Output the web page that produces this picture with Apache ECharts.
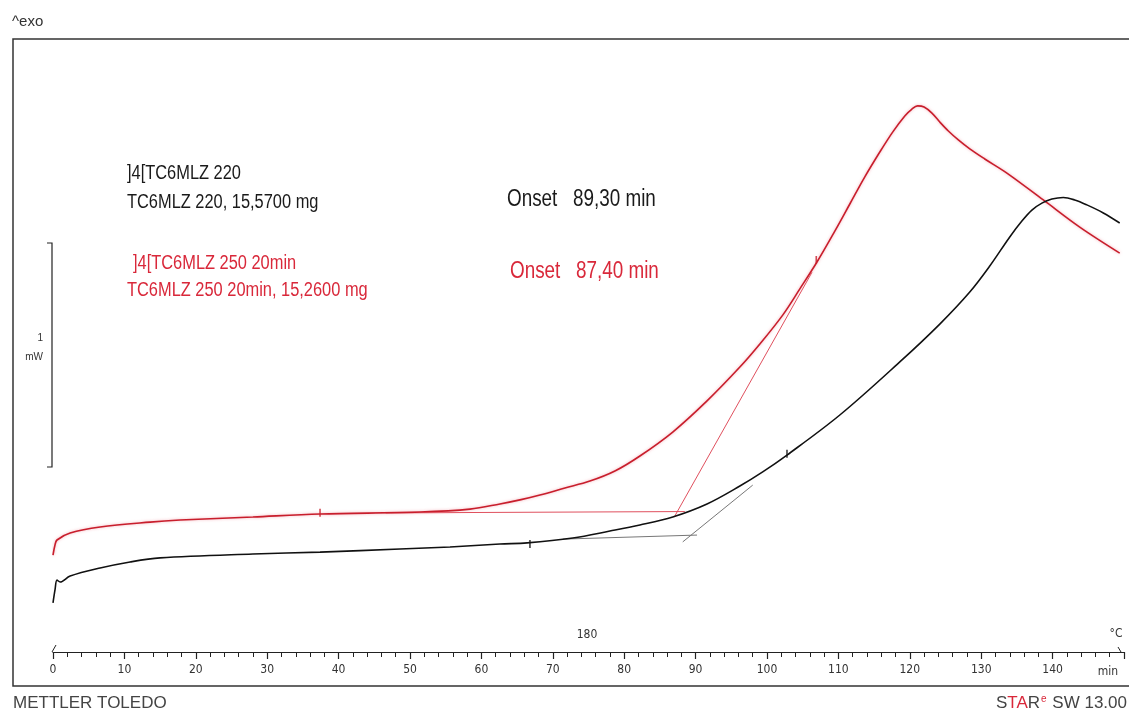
<!DOCTYPE html>
<html>
<head>
<meta charset="utf-8">
<title>DSC – TC6MLZ</title>
<script src="https://cdn.jsdelivr.net/npm/echarts@6/dist/echarts.min.js"></script>
<style>
  html, body { margin: 0; padding: 0; background: #ffffff; }
  #c { width: 1129px; height: 712px; }
</style>
</head>
<body>
<div id="c"></div>
<script>
// ---- data: time in min, heat flow in mW (arbitrary offset, exo up) ----
const blackTime = [0, 0.28, 0.56, 1.0, 2.4, 6.6, 10.8, 15.0, 28.0, 37.4, 48.6, 55.6, 62.6, 66.4, 72.8, 78.0, 82.2, 86.8, 91.6, 96.2, 99.4, 102.8, 110.2, 118.6, 124.2, 128.4, 131.2, 134.0, 135.7, 137.1, 138.5, 139.9, 141.5, 143.1, 144.8, 147.1, 149.4];
const blackHeat = [0.219, 0.277, 0.321, 0.3125, 0.339, 0.375, 0.402, 0.420, 0.4375, 0.446, 0.460, 0.469, 0.482, 0.487, 0.509, 0.540, 0.567, 0.603, 0.661, 0.741, 0.804, 0.879, 1.058, 1.295, 1.464, 1.607, 1.723, 1.853, 1.924, 1.973, 2.004, 2.022, 2.029, 2.018, 1.996, 1.960, 1.915];

const redTime = [0, 0.28, 0.56, 2.4, 6.6, 13.6, 17.8, 28.0, 37.4, 51.4, 58.4, 62.6, 65.4, 68.2, 71.7, 75.2, 78.7, 82.2, 86.8, 91.6, 96.2, 99.0, 102.2, 104.6, 107.0, 109.5, 111.6, 113.7, 115.8, 117.6, 119.3, 120.3, 121.1, 122.0, 123.1, 124.2, 125.4, 126.8, 128.4, 130.5, 133.6, 138.7, 143.8, 149.4];
const redHeat = [0.433, 0.478, 0.500, 0.531, 0.558, 0.580, 0.589, 0.603, 0.616, 0.625, 0.638, 0.661, 0.679, 0.701, 0.732, 0.763, 0.808, 0.875, 0.982, 1.121, 1.272, 1.375, 1.504, 1.621, 1.741, 1.879, 2.000, 2.121, 2.232, 2.321, 2.393, 2.424, 2.438, 2.433, 2.406, 2.366, 2.326, 2.286, 2.246, 2.201, 2.138, 2.018, 1.897, 1.781];

// onset evaluation: baseline and inflection tangents [time, mW]
const redBaseline = [[46.6, 0.621], [88.5, 0.627]];
const redTangent = [[87.0, 0.602], [106.3, 1.695]];
const blackBaseline = [[71.4, 0.504], [90.2, 0.522]];
const blackTangent = [[88.2, 0.4915], [98.0, 0.745]];

// integration limit marks
const redLimits = [[37.4, 0.622], [106.9, 1.750]];
const blackLimits = [[66.8, 0.482], [102.8, 0.885]];

// 1 mW scale bar (mW)
const scaleBar = [0.826, 1.826];

const legendBlack = [']4[TC6MLZ 220', 'TC6MLZ 220, 15,5700 mg'];
const legendRed = [']4[TC6MLZ 250 20min', 'TC6MLZ 250 20min, 15,2600 mg'];
const onsetBlack = 'Onset   89,30 min';
const onsetRed = 'Onset   87,40 min';

const NARROW = "'DejaVu Sans Condensed','Liberation Sans Narrow',sans-serif";
const SANS = "'Liberation Sans',Arial,sans-serif";
const RED = '#c81e2c';
const RED_TEXT = '#d9283a';
const SQUEEZE = 0.82;   // horizontal compression for the narrow annotation face

const zip = (a, b) => a.map((v, i) => [v, b[i]]);

const chart = echarts.init(document.getElementById('c'), null, { renderer: 'canvas' });

function lineSeries(data, color, width, z, extra) {
  return Object.assign({
    type: 'line', data, symbol: 'none', z, silent: true, animation: false,
    lineStyle: { color, width }
  }, extra || {});
}

function txt(text, x, y, size, fill, family, align) {
  return {
    type: 'text', x, y, silent: true,
    style: { text, font: size + 'px ' + family, fill, align: align || 'left', verticalAlign: 'middle' }
  };
}

// narrow annotation text: regular sans squeezed horizontally from its left edge
function ntxt(text, x, y, size, fill) {
  const t = txt(text, x, y, size, fill, SANS);
  t.scaleX = SQUEEZE;
  return t;
}

chart.setOption({
  animation: false,
  backgroundColor: '#ffffff',
  grid: { left: 53, right: 5, top: 36, bottom: 60 },
  xAxis: {
    type: 'value', min: 0, max: 150, interval: 10,
    axisLine: { show: true, lineStyle: { color: '#222', width: 1.2 } },
    axisTick: { show: true, length: 7, lineStyle: { color: '#222', width: 1.2 } },
    minorTick: { show: true, splitNumber: 5, length: 5, lineStyle: { color: '#222', width: 1 } },
    axisLabel: {
      margin: 12, color: '#333', fontFamily: NARROW, fontSize: 12,
      formatter: v => (v % 10 === 0 && v < 150) ? String(v) : ''
    },
    splitLine: { show: false }
  },
  yAxis: { type: 'value', min: 0, max: 2.75, show: false },
  series: [
    lineSeries(redBaseline, '#e0505e', 1, 2),
    lineSeries(redTangent, '#e0505e', 1, 2),
    lineSeries(blackBaseline, '#777', 1, 2),
    lineSeries(blackTangent, '#777', 1, 2),
    lineSeries(zip(redTime, redHeat), RED, 1.6, 4, {
      smooth: 0.35,
      lineStyle: { color: RED, width: 1.6, shadowColor: 'rgba(235,110,125,0.55)', shadowBlur: 3 }
    }),
    lineSeries(zip(blackTime, blackHeat), '#111', 1.6, 5, { smooth: 0.35 }),
    {
      type: 'scatter', data: redLimits, symbol: 'rect', symbolSize: [1.6, 8], z: 6, silent: true,
      itemStyle: { color: RED }
    },
    {
      type: 'scatter', data: blackLimits, symbol: 'rect', symbolSize: [1.6, 8], z: 6, silent: true,
      itemStyle: { color: '#111' }
    }
  ]
});

// decorations drawn in pixel space, scale bar placed through the value scale
const x0 = chart.convertToPixel({ gridIndex: 0 }, [0, 0]);
const barTop = chart.convertToPixel({ gridIndex: 0 }, [0, scaleBar[1]])[1];
const barBot = chart.convertToPixel({ gridIndex: 0 }, [0, scaleBar[0]])[1];
const bx = x0[0] - 1;
const axisY = x0[1];
const xEnd = chart.convertToPixel({ gridIndex: 0 }, [150, 0])[0];

chart.setOption({
  graphic: [
    { type: 'polyline', silent: true, shape: { points: [[1129, 39], [13, 39], [13, 686], [1129, 686]] },
      style: { stroke: '#333', lineWidth: 1.5, fill: null } },
    { type: 'polyline', silent: true, shape: { points: [[bx - 5, barTop], [bx, barTop], [bx, barBot], [bx - 5, barBot]] },
      style: { stroke: '#222', lineWidth: 1.2, fill: null } },
    { type: 'line', silent: true, shape: { x1: x0[0] - 1, y1: axisY, x2: x0[0] + 3, y2: axisY - 7 },
      style: { stroke: '#222', lineWidth: 1 } },
    { type: 'line', silent: true, shape: { x1: xEnd - 6, y1: axisY - 5, x2: xEnd - 3, y2: axisY },
      style: { stroke: '#222', lineWidth: 1 } },
    txt('1', bx - 9, (barTop + barBot) / 2 - 17, 10, '#333', SANS, 'right'),
    txt('mW', bx - 9, (barTop + barBot) / 2 + 2, 10, '#333', SANS, 'right'),
    txt('^exo', 12, 22, 15, '#333', SANS),
    ntxt(legendBlack[0], 127, 173, 20, '#1a1a1a'),
    ntxt(legendBlack[1], 127, 202, 20, '#1a1a1a'),
    ntxt(legendRed[0], 133, 263, 20, RED_TEXT),
    ntxt(legendRed[1], 127, 290, 20, RED_TEXT),
    ntxt(onsetBlack, 507, 200, 23, '#1a1a1a'),
    ntxt(onsetRed, 510, 272, 23, RED_TEXT),
    txt('180', 587, 635, 12, '#333', NARROW, 'center'),
    txt('°C', 1116, 634, 12, '#333', NARROW, 'center'),
    txt('min', 1108, 672, 12, '#333', NARROW, 'center'),
    txt('METTLER TOLEDO', 13, 703, 17, '#444', SANS),
    {
      type: 'text', x: 1127, y: 703, silent: true,
      style: {
        text: '{d|S}{r|TA}{d|R}{s|e}{d| SW 13.00}',
        align: 'right', verticalAlign: 'middle',
        rich: {
          d: { fill: '#444', fontSize: 17, fontFamily: SANS },
          r: { fill: RED_TEXT, fontSize: 17, fontFamily: SANS },
          s: { fill: RED_TEXT, fontSize: 10, fontFamily: SANS, verticalAlign: 'top', padding: [0, 1, 8, 1] }
        }
      }
    }
  ]
});
</script>
</body>
</html>
